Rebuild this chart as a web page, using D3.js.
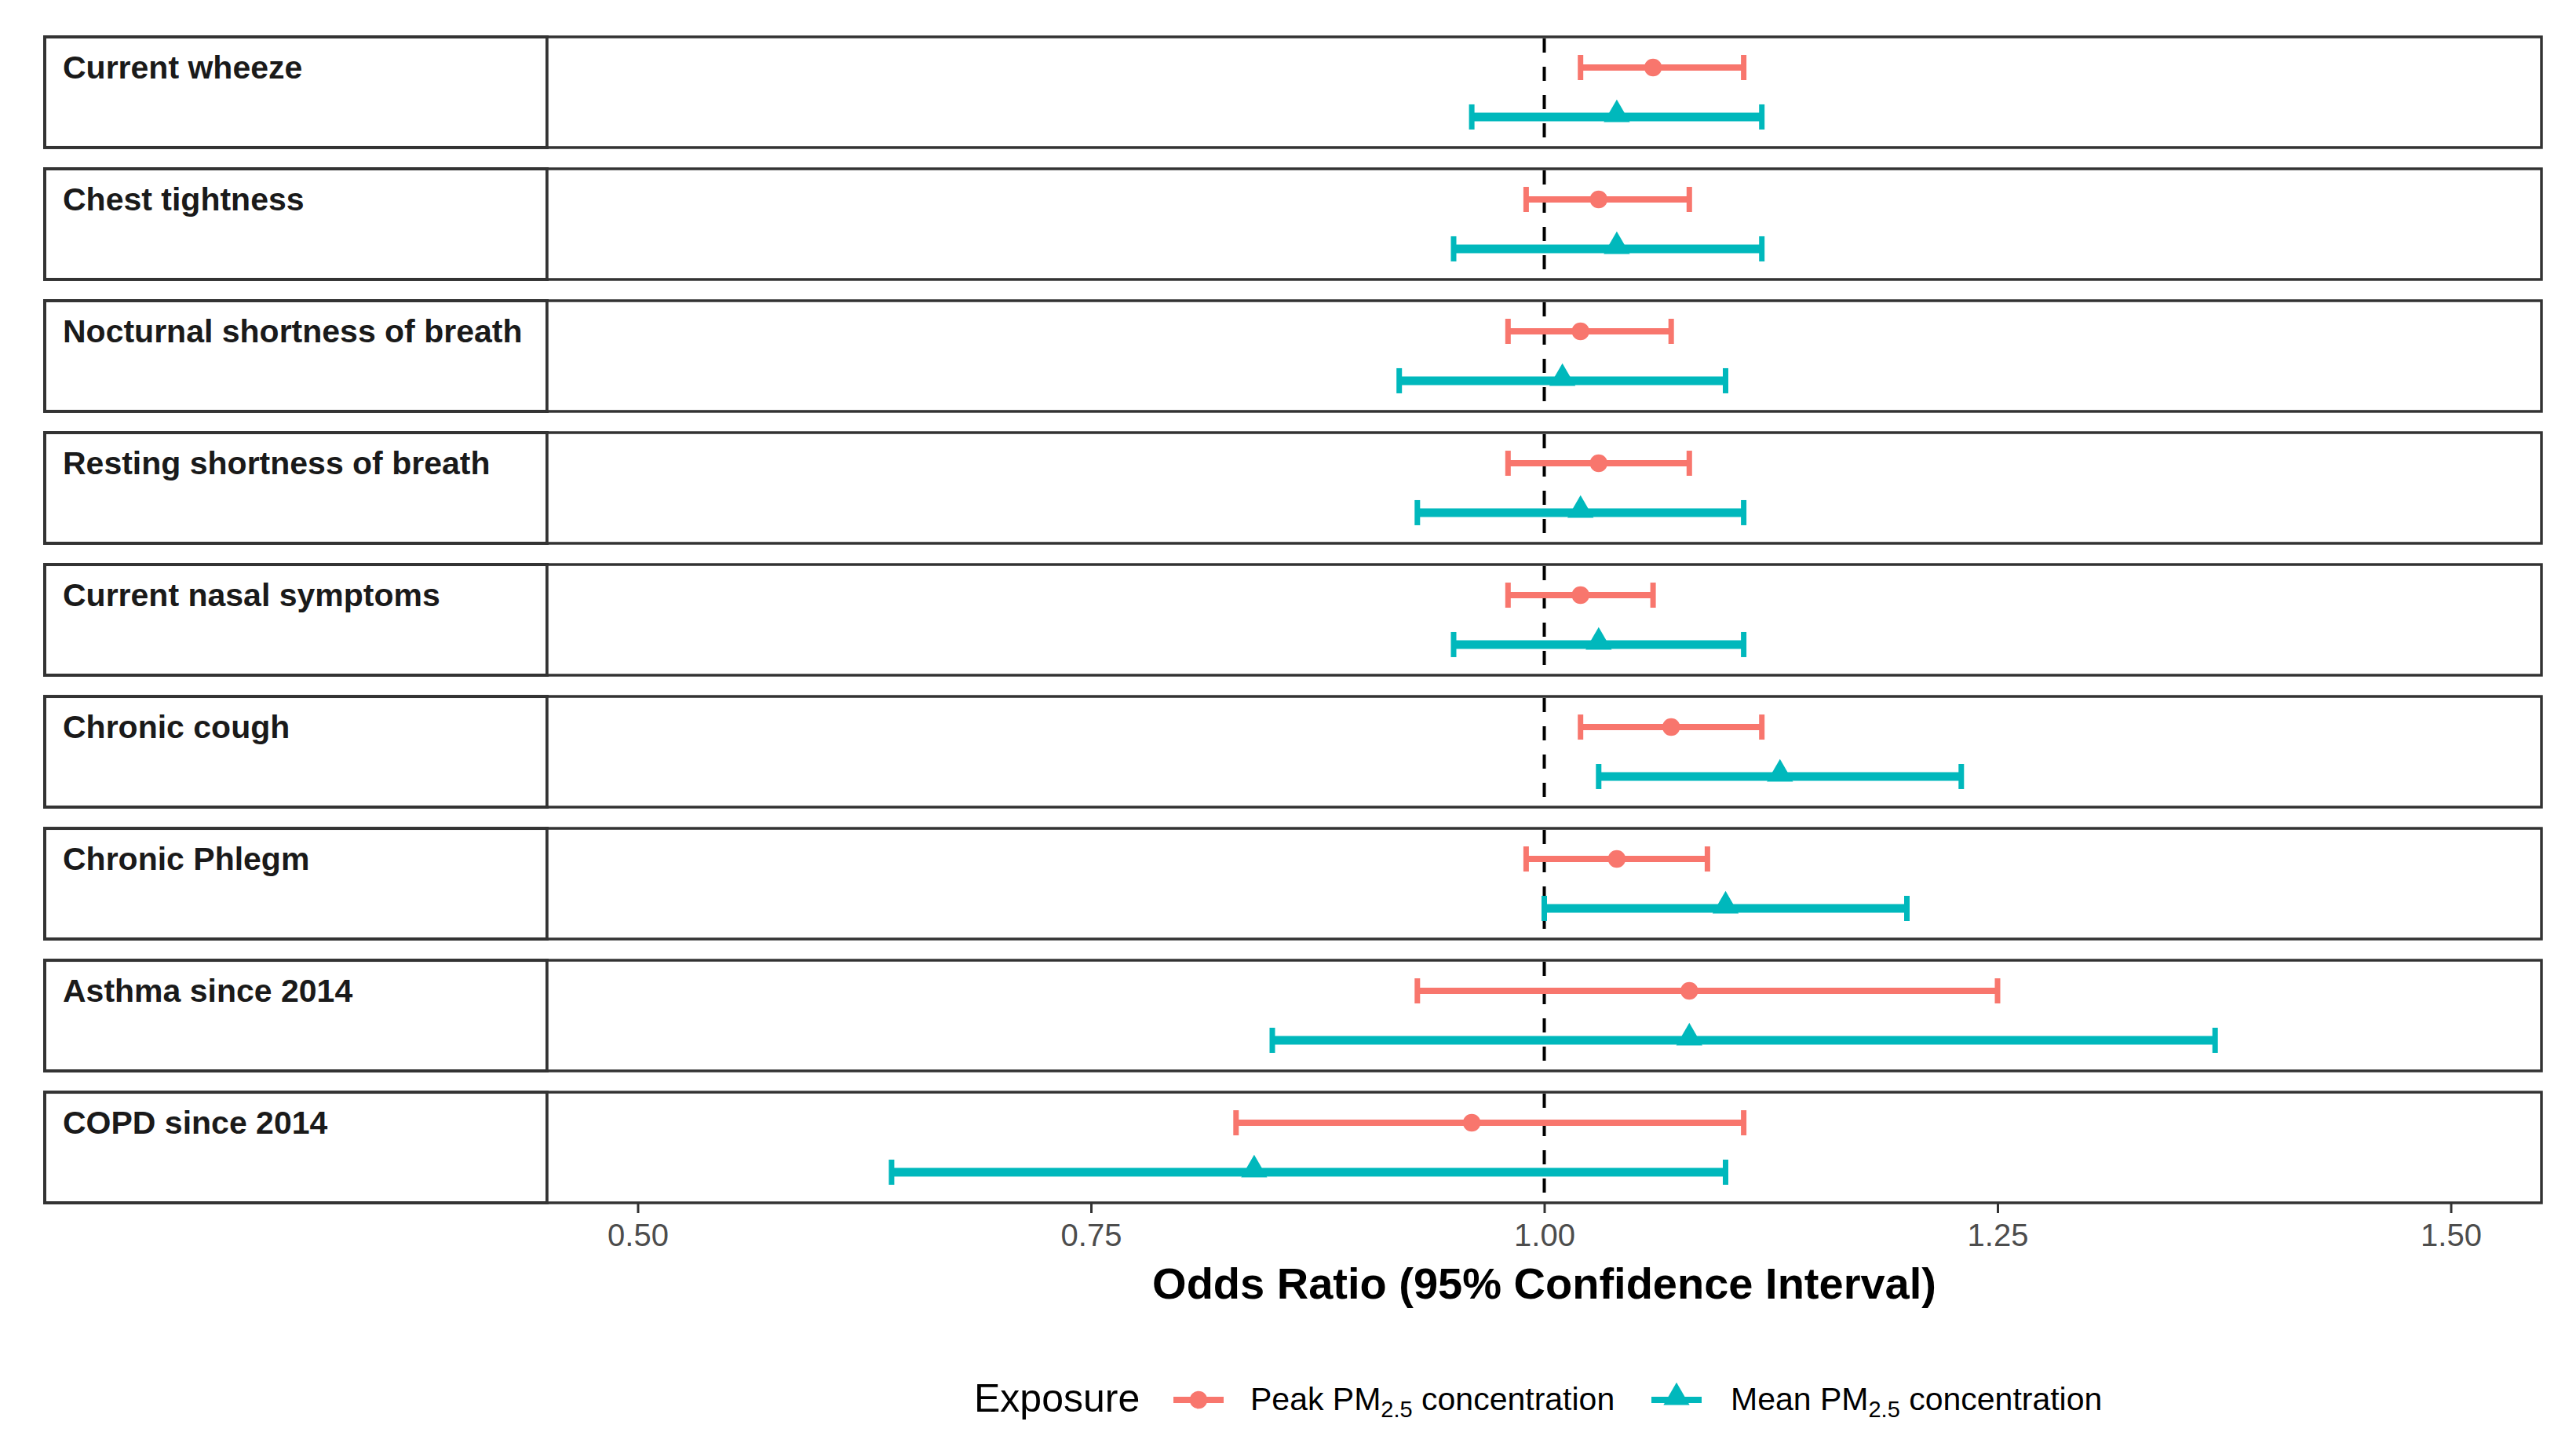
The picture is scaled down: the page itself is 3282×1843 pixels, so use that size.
<!DOCTYPE html>
<html>
<head>
<meta charset="utf-8">
<script src="https://cdn.jsdelivr.net/npm/d3@7"></script>
<style>
  body { margin: 0; background: #fff; }
  text { font-family: "Liberation Sans", Arial, sans-serif; }
</style>
</head>
<body>
<svg id="forest" width="3282" height="1843"></svg>
<script>
// data
const outcomes = ["Current wheeze", "Chest tightness", "Nocturnal shortness of breath",
  "Resting shortness of breath", "Current nasal symptoms", "Chronic cough",
  "Chronic Phlegm", "Asthma since 2014", "COPD since 2014"];
const exposures = ["Peak", "Mean"];
const peakOR = [1.06, 1.03, 1.02, 1.03, 1.02, 1.07, 1.04, 1.08, 0.96];
const peakLo = [1.02, 0.99, 0.98, 0.98, 0.98, 1.02, 0.99, 0.93, 0.83];
const peakHi = [1.11, 1.08, 1.07, 1.08, 1.06, 1.12, 1.09, 1.25, 1.11];
const meanOR = [1.04, 1.04, 1.01, 1.02, 1.03, 1.13, 1.10, 1.08, 0.84];
const meanLo = [0.96, 0.95, 0.92, 0.93, 0.95, 1.03, 1.00, 0.85, 0.64];
const meanHi = [1.12, 1.12, 1.10, 1.11, 1.11, 1.23, 1.20, 1.37, 1.10];
const xTicks = [0.50, 0.75, 1.00, 1.25, 1.50];

const colors = { Peak: "#F8766D", Mean: "#00B8BC" };

const svg = d3.select("#forest");

// layout
const stripLeft = 57, panelLeft = 697, panelRight = 3238;
const plotTop = 47, plotBottom = 1532;

const x = d3.scaleLinear().domain([0.45, 1.55]).range([panelLeft, panelRight]);
const y = d3.scaleBand().domain(outcomes).range([plotTop, plotBottom]).paddingInner(0.161).paddingOuter(0);
const yIn = d3.scalePoint().domain(exposures).range([0, y.bandwidth()]).padding(0.62);

// rows: one object per outcome x exposure
const rows = [];
outcomes.forEach((o, i) => {
  rows.push({ outcome: o, exp: "Peak", or: peakOR[i], lo: peakLo[i], hi: peakHi[i] });
  rows.push({ outcome: o, exp: "Mean", or: meanOR[i], lo: meanLo[i], hi: meanHi[i] });
});

// facet boxes
const facet = svg.selectAll("g.facet")
  .data(outcomes)
  .enter().append("g")
    .attr("class", "facet")
    .attr("transform", d => "translate(0," + y(d) + ")");

facet.append("rect")
  .attr("x", stripLeft).attr("y", 0)
  .attr("width", panelLeft - stripLeft).attr("height", y.bandwidth())
  .attr("fill", "#fff").attr("stroke", "#333").attr("stroke-width", 4);

facet.append("rect")
  .attr("x", panelLeft).attr("y", 0)
  .attr("width", panelRight - panelLeft).attr("height", y.bandwidth())
  .attr("fill", "#fff").attr("stroke", "#333").attr("stroke-width", 3.5);

facet.append("text")
  .attr("x", 80).attr("y", 53)
  .attr("font-size", 41).attr("font-weight", "bold").attr("fill", "#1a1a1a")
  .text(d => d);

// reference line at OR = 1
facet.append("line")
  .attr("x1", x(1)).attr("x2", x(1))
  .attr("y1", 2).attr("y2", y.bandwidth() - 2)
  .attr("stroke", "#000").attr("stroke-width", 4)
  .attr("stroke-dasharray", "18,18");

// error bars
const bars = svg.selectAll("g.bar")
  .data(rows)
  .enter().append("g")
    .attr("class", "bar")
    .attr("transform", d => "translate(0," + (y(d.outcome) + yIn(d.exp)) + ")");

bars.append("line")
  .attr("x1", d => x(d.lo)).attr("x2", d => x(d.hi))
  .attr("stroke", d => colors[d.exp])
  .attr("stroke-width", d => d.exp == "Peak" ? 8 : 11);

bars.selectAll("line.cap")
  .data(d => [d.lo, d.hi].map(v => ({ v: v, exp: d.exp })))
  .enter().append("line")
    .attr("class", "cap")
    .attr("x1", d => x(d.v)).attr("x2", d => x(d.v))
    .attr("y1", -16).attr("y2", 16)
    .attr("stroke", d => colors[d.exp])
    .attr("stroke-width", 7);

const shapeFor = exp => exp == "Peak"
  ? d3.symbol(d3.symbolCircle, 400)()
  : d3.symbol(d3.symbolTriangle, 480)();

bars.append("path")
  .attr("d", d => shapeFor(d.exp))
  .attr("transform", d => "translate(" + x(d.or) + "," + (d.exp == "Peak" ? 0 : -3) + ")")
  .attr("fill", d => colors[d.exp]);

// x axis
const axis = svg.append("g")
  .attr("transform", "translate(0," + plotBottom + ")")
  .call(d3.axisBottom(x).tickValues(xTicks).tickFormat(d3.format(".2f")).tickSize(13).tickPadding(14));
axis.select(".domain").remove();
axis.selectAll(".tick line").attr("stroke", "#333").attr("stroke-width", 3);
axis.selectAll(".tick text")
  .attr("font-size", 40).attr("fill", "#4D4D4D")
  .attr("font-family", "Liberation Sans, Arial, sans-serif");

svg.append("text")
  .attr("x", (panelLeft + panelRight) / 2).attr("y", 1654)
  .attr("text-anchor", "middle")
  .attr("font-size", 56).attr("font-weight", "bold").attr("fill", "#000")
  .text("Odds Ratio (95% Confidence Interval)");

// legend
const legY = 1783;
svg.append("text")
  .attr("x", 1241).attr("y", 1798)
  .attr("font-size", 50).attr("fill", "#000")
  .text("Exposure");

const legend = [
  { exp: "Peak", keyX: 1527, textX: 1593, word: "Peak PM" },
  { exp: "Mean", keyX: 2136, textX: 2205, word: "Mean PM" }
];

const leg = svg.selectAll("g.leg")
  .data(legend)
  .enter().append("g")
    .attr("class", "leg");

leg.append("line")
  .attr("x1", d => d.keyX - 32).attr("x2", d => d.keyX + 32)
  .attr("y1", legY).attr("y2", legY)
  .attr("stroke", d => colors[d.exp]).attr("stroke-width", 8);

leg.append("path")
  .attr("d", d => shapeFor(d.exp))
  .attr("transform", d => "translate(" + d.keyX + "," + (d.exp == "Peak" ? legY : legY - 3) + ")")
  .attr("fill", d => colors[d.exp]);

const legText = leg.append("text")
  .attr("x", d => d.textX).attr("y", 1796)
  .attr("font-size", 41).attr("fill", "#000");
legText.append("tspan").text(d => d.word);
legText.append("tspan").attr("font-size", 29).attr("dy", 9).text("2.5");
legText.append("tspan").attr("dy", -9).text(" concentration");
</script>
</body>
</html>
